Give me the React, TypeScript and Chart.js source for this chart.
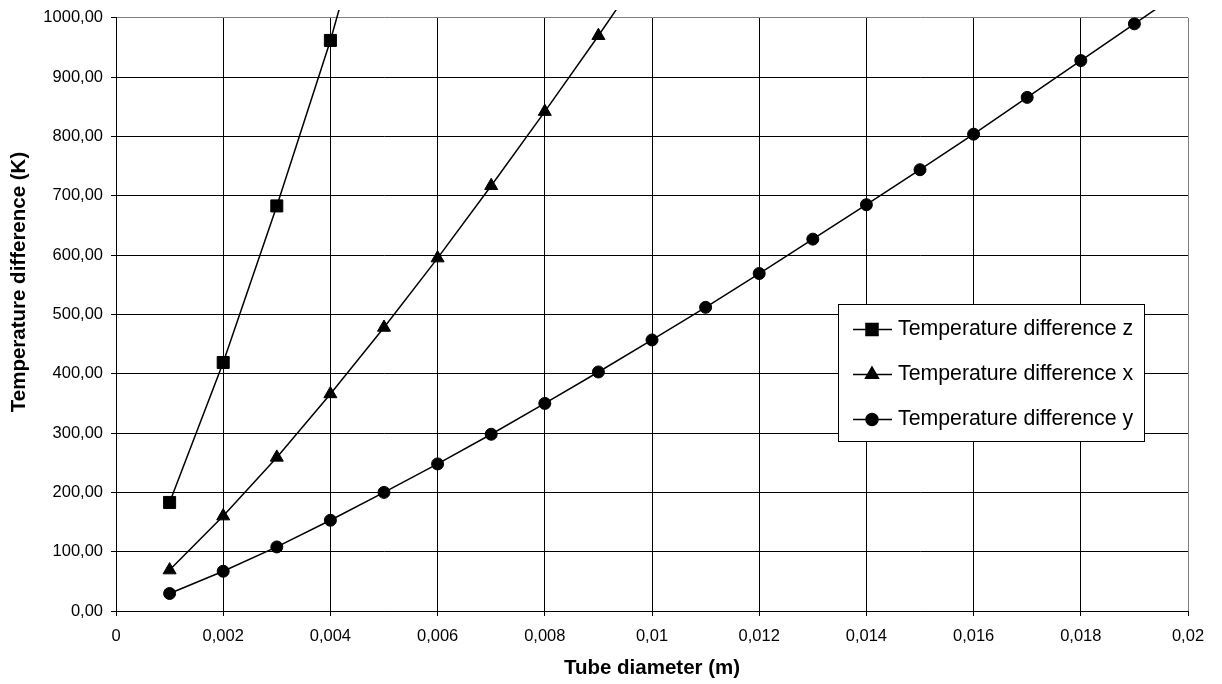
import React, { useEffect, useRef } from "react";
import { Chart, registerables } from "chart.js";
import { drawPoint } from "chart.js/helpers";

Chart.register(...registerables);

const diameters = [
  0.001, 0.002, 0.003, 0.004, 0.005, 0.006, 0.007, 0.008, 0.009, 0.01,
  0.011, 0.012, 0.013, 0.014, 0.015, 0.016, 0.017, 0.018, 0.019, 0.02,
];
const tempZ = [183, 419, 683, 962, 1283];
const tempX = [69, 160, 259, 366, 478, 595, 717, 842, 970, 1102];
const tempY = [
  29.5, 67, 108, 153, 200, 248, 298, 350, 403, 457,
  512, 569, 627, 685, 744, 804, 866, 928, 990, 1052,
];
const seriesLabels = [
  "Temperature difference z",
  "Temperature difference x",
  "Temperature difference y",
];
const xTitle = "Tube diameter (m)";
const yTitle = "Temperature difference (K)";

const FONT = '"Liberation Sans", Arial, sans-serif';

const toPoints = (vals: number[]) => vals.map((v, i) => ({ x: diameters[i], y: v }));

const fmtX = (v: number) => Number(v.toFixed(4)).toString().replace(".", ",");
const fmtY = (v: number) => v.toFixed(2).replace(".", ",");

const extrasPlugin = {
  id: "extras",
  afterDraw(chart: any) {
    const ctx: CanvasRenderingContext2D = chart.ctx;
    ctx.save();
    // axis titles
    ctx.fillStyle = "#000";
    ctx.font = `bold 20.5px ${FONT}`;
    ctx.textAlign = "center";
    ctx.textBaseline = "middle";
    ctx.fillText(xTitle, (chart.chartArea.left + chart.chartArea.right) / 2, 668);
    ctx.save();
    ctx.translate(19, 282);
    ctx.rotate(-Math.PI / 2);
    ctx.fillText(yTitle, 0, 0);
    ctx.restore();

    // legend box
    const bx = 838.5, by = 304.5, bw = 306, bh = 137;
    ctx.fillStyle = "#fff";
    ctx.fillRect(bx, by, bw, bh);
    ctx.strokeStyle = "#000";
    ctx.lineWidth = 1;
    ctx.strokeRect(bx, by, bw, bh);
    chart.data.datasets.forEach((ds: any, i: number) => {
      const cy = 329.5 + i * 45;
      ctx.strokeStyle = "#000";
      ctx.lineWidth = 1.5;
      ctx.beginPath();
      ctx.moveTo(853, cy);
      ctx.lineTo(892, cy);
      ctx.stroke();
      ctx.fillStyle = "#000";
      drawPoint(ctx, { pointStyle: ds.pointStyle, rotation: 0, radius: ds.pointRadius, borderWidth: 1 }, 872, cy);
      ctx.fillStyle = "#000";
      ctx.font = `21.3px ${FONT}`;
      ctx.textAlign = "left";
      ctx.textBaseline = "middle";
      ctx.fillText(ds.label, 898, cy);
    });
    ctx.restore();
  },
};

export default function App() {
  const ref = useRef<HTMLCanvasElement | null>(null);
  useEffect(() => {
    if (!ref.current) return;
    const common = {
      borderColor: "#000",
      backgroundColor: "#000",
      pointBackgroundColor: "#000",
      pointBorderColor: "#000",
      borderWidth: 1.5,
      pointBorderWidth: 1,
      tension: 0,
      fill: false,
      clip: { left: 10, top: 8, right: 10, bottom: 10 },
    };
    const chart = new Chart(ref.current, {
      type: "line",
      data: {
        datasets: [
          { ...common, label: seriesLabels[0], data: toPoints(tempZ), pointStyle: "rect", pointRadius: 8.5 },
          { ...common, label: seriesLabels[1], data: toPoints(tempX), pointStyle: "triangle", pointRadius: 7.5 },
          { ...common, label: seriesLabels[2], data: toPoints(tempY), pointStyle: "circle", pointRadius: 6 },
        ],
      },
      options: {
        animation: false,
        responsive: true,
        maintainAspectRatio: false,
        layout: { padding: { left: 0, top: 16, right: 34, bottom: 0 } },
        plugins: { legend: { display: false }, tooltip: { enabled: false } },
        scales: {
          x: {
            type: "linear",
            min: 0,
            max: 0.02,
            afterFit: (s: any) => { s.height = 73; },
            ticks: {
              stepSize: 0.002,
              color: "#000",
              padding: 11,
              maxRotation: 0,
              autoSkip: false,
              font: { family: FONT, size: 16.5 },
              callback: (v: any) => fmtX(Number(v)),
            },
            grid: {
              color: (c: any) => (c.tick && Math.abs(c.tick.value - 0.02) < 1e-9 ? "#808080" : "#000"),
              lineWidth: 1,
              tickLength: 5,
              tickColor: "#000",
            },
            border: { color: "#000", width: 1 },
          },
          y: {
            type: "linear",
            min: 0,
            max: 1000,
            afterFit: (s: any) => { s.width = 116; },
            ticks: {
              stepSize: 100,
              color: "#000",
              padding: 8,
              autoSkip: false,
              font: { family: FONT, size: 16.5 },
              callback: (v: any) => fmtY(Number(v)),
            },
            grid: {
              color: (c: any) => (c.tick && c.tick.value === 1000 ? "#808080" : "#000"),
              lineWidth: 1,
              tickLength: 5,
              tickColor: "#000",
            },
            border: { color: "#000", width: 1 },
          },
        },
      },
      plugins: [extrasPlugin],
    });
    return () => chart.destroy();
  }, []);
  return (
    <div style={{ position: "absolute", left: 0, top: 0, width: 1222, height: 684, background: "#fff" }}>
      <canvas ref={ref} />
    </div>
  );
}
